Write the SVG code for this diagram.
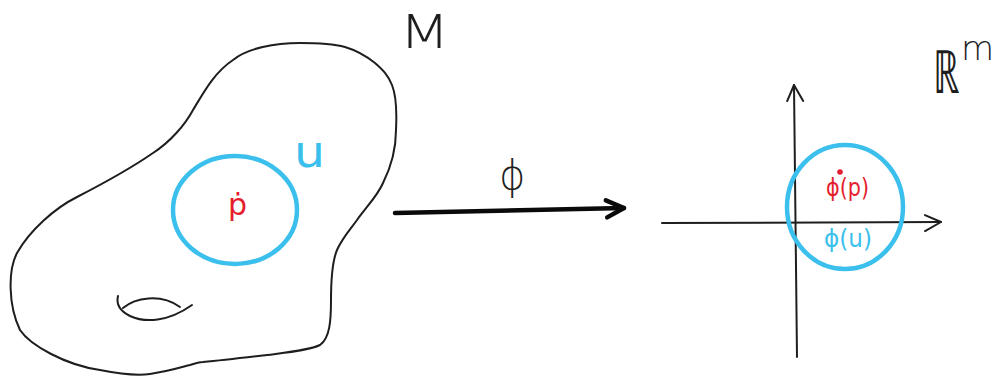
<svg xmlns="http://www.w3.org/2000/svg" width="993" height="378" viewBox="0 0 993 378">
<defs>
<style>
.ink{fill:none;stroke:#1e1e1e;stroke-width:2;stroke-linecap:round;stroke-linejoin:round}
.blue{fill:none;stroke:#3bbfec;stroke-width:4.5}
.t{font-family:"DejaVu Sans","Liberation Sans",sans-serif}
.red{fill:#e51e2e}
.bl{fill:#3bbfec}
.k{fill:#1e1e1e}
</style>
<marker id="thinHead" markerUnits="userSpaceOnUse" markerWidth="30" markerHeight="30" viewBox="-20 -15 30 30" refX="0" refY="0" orient="auto">
<path d="M-16,-7 L0,0 L-16,9" fill="none" stroke="#1e1e1e" stroke-width="2" stroke-linecap="round" stroke-linejoin="round"/>
</marker>
<marker id="thickHead" markerUnits="userSpaceOnUse" markerWidth="30" markerHeight="30" viewBox="-22 -15 30 30" refX="0" refY="0" orient="auto">
<path d="M-18,-8 L0,0 L-17,9" fill="none" stroke="#0a0a0a" stroke-width="4.5" stroke-linecap="round" stroke-linejoin="round"/>
</marker>
</defs>
<rect width="993" height="378" fill="#ffffff"/>

<g id="manifold-M">
<path class="ink" d="M300,43 C275,43 248,48 233,60 C215,72 205,90 193,110 C185,125 170,142 153,153 C140,162 110,180 77,197 C55,208 30,230 17,253 C8,270 8,305 20,330 C30,345 65,365 100,370 C120,374 135,376 150,374 C170,371 182,367 190,365 C196,363 200,362 203,362 C225,360 250,357 267,355 C290,352 310,350 320,345 C330,338 331,320 331,300 C331,280 332,262 337,250 C343,237 350,230 357,220 C368,205 378,195 383,183 C392,165 396,150 396,130 C397,110 396,95 392,85 C388,75 383,70 375,63 C365,55 355,50 345,47 C330,43 315,43 300,43 Z"/>
<path class="ink" d="M118,296 C116,304 120,311 130,316 C145,323 168,322 192,305"/>
<path class="ink" d="M123,308 C135,298 160,293 180,307"/>
<text class="t k" x="399" y="48" font-size="46" font-weight="300" textLength="51" lengthAdjust="spacingAndGlyphs">M</text>
</g>

<g id="open-set-U">
<ellipse class="blue" cx="235" cy="210" rx="62" ry="54"/>
<text class="t bl" x="294" y="167" font-size="44" textLength="31" lengthAdjust="spacingAndGlyphs">u</text>
</g>

<g id="point-p">
<text class="t red" x="228" y="215" font-size="30">ṗ</text>
</g>

<g id="Rm">
<line class="ink" x1="797" y1="357" x2="794" y2="85" marker-end="url(#thinHead)"/>
<line class="ink" x1="662" y1="223" x2="941" y2="222" marker-end="url(#thinHead)"/>
<text class="t k" x="933" y="93" font-size="60" font-weight="300" transform="translate(933 0) scale(0.62 1) translate(-933 0)">ℝ</text>
<text class="t k" x="961" y="60" font-size="34" font-weight="300">m</text>
</g>

<g id="image-U">
<ellipse class="blue" cx="845" cy="207" rx="58" ry="62"/>
<text class="t bl" x="824" y="247" font-size="24" textLength="48" lengthAdjust="spacingAndGlyphs">ϕ(u)</text>
</g>

<g id="image-p">
<circle cx="840" cy="172" r="2.8" fill="#e51e2e"/>
<text class="t red" x="826" y="196" font-size="24" textLength="43" lengthAdjust="spacingAndGlyphs">ϕ(p)</text>
</g>

<g id="connectors">
<line x1="395" y1="213" x2="624" y2="208" stroke="#0a0a0a" stroke-width="4.5" stroke-linecap="round" marker-end="url(#thickHead)"/>
<text class="t k" x="499" y="189" font-size="40" font-weight="300">ϕ</text>
</g>
</svg>
